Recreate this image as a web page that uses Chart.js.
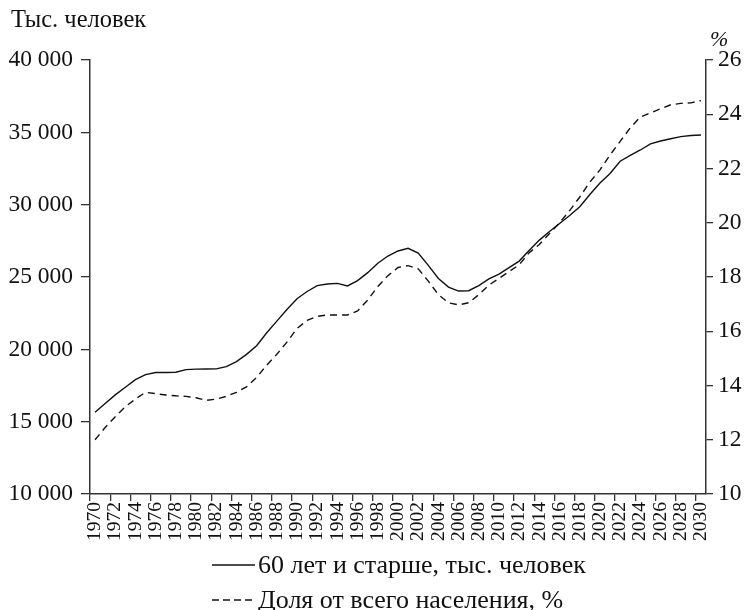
<!DOCTYPE html>
<html>
<head>
<meta charset="utf-8">
<script src="https://cdn.jsdelivr.net/npm/chart.js@4.4.1/dist/chart.umd.min.js"></script>
<style>
  body { margin: 0; background: #fff; }
  #wrap { position: relative; width: 746px; height: 610px; overflow: hidden; font-family: "Liberation Serif", "Times New Roman", serif; color: #111; }
  #myChart { position: absolute; left: 0; top: 0; }
  .lbl { position: absolute; white-space: nowrap; line-height: 1; }
  #yTitle { left: 11px; top: 7px; font-size: 24.5px; }
  #pct { left: 710px; top: 28px; font-size: 22px; font-style: italic; }
  #legend { position: absolute; left: 212px; top: 547px; font-size: 26px; line-height: 1; }
  .row { height: 35px; display: flex; align-items: center; white-space: nowrap; }
  .row svg { margin-right: 3px; }
</style>
</head>
<body>
<div id="wrap">
  <canvas id="myChart" width="746" height="550"></canvas>
  <div class="lbl" id="yTitle">Тыс. человек</div>
  <div class="lbl" id="pct">%</div>
  <div id="legend">
    <div class="row"><svg width="43" height="4"><line x1="0" y1="2" x2="43" y2="2" stroke="#111" stroke-width="1.4"/></svg><span>60 лет и старше, тыс. человек</span></div>
    <div class="row"><svg width="43" height="4"><line x1="0" y1="2" x2="41" y2="2" stroke="#111" stroke-width="1.4" stroke-dasharray="7,4"/></svg><span>Доля от всего населения, %</span></div>
  </div>
</div>
<script>
//  Data
var years = [1970, 1971, 1972, 1973, 1974, 1975, 1976, 1977, 1978, 1979,
  1980, 1981, 1982, 1983, 1984, 1985, 1986, 1987, 1988, 1989,
  1990, 1991, 1992, 1993, 1994, 1995, 1996, 1997, 1998, 1999,
  2000, 2001, 2002, 2003, 2004, 2005, 2006, 2007, 2008, 2009,
  2010, 2011, 2012, 2013, 2014, 2015, 2016, 2017, 2018, 2019,
  2020, 2021, 2022, 2023, 2024, 2025, 2026, 2027, 2028, 2029, 2030];

// 60 лет и старше, тыс. человек
var olderPeople = [15650, 16250, 16850, 17380, 17900, 18250, 18400, 18400, 18420, 18600,
  18630, 18640, 18650, 18800, 19150, 19650, 20250, 21150, 21950, 22750,
  23500, 24000, 24400, 24520, 24560, 24380, 24750, 25300, 25950, 26450,
  26800, 26980, 26650, 25800, 24900, 24300, 24030, 24050, 24400, 24870,
  25200, 25650, 26100, 26850, 27550, 28150, 28700, 29250, 29860, 30700,
  31500, 32150, 33000, 33400, 33780, 34200, 34400, 34560, 34700, 34780, 34820];

// Доля от всего населения, %
var sharePct = [12.0, 12.45, 12.85, 13.22, 13.5, 13.75, 13.7, 13.65, 13.62, 13.6,
  13.55, 13.45, 13.5, 13.6, 13.75, 13.95, 14.3, 14.75, 15.15, 15.6,
  16.1, 16.4, 16.55, 16.6, 16.6, 16.6, 16.75, 17.15, 17.65, 18.05,
  18.35, 18.42, 18.3, 17.85, 17.35, 17.05, 16.97, 17.05, 17.35, 17.7,
  17.95, 18.2, 18.45, 18.9, 19.2, 19.6, 20.0, 20.45, 20.95, 21.5,
  21.95, 22.5, 23.0, 23.5, 23.9, 24.05, 24.2, 24.35, 24.4, 24.42, 24.5];

var leftMin = 10000, leftMax = 40000, leftStep = 5000;
var rightMin = 10, rightMax = 26, rightStep = 2;

var axisColor = "#333";
var inkColor = "#111";

function spaced(v) {
  return String(v).replace(/\B(?=(\d{3})+(?!\d))/g, " ");
}

new Chart("myChart", {
  type: "line",
  data: {
    labels: years,
    datasets: [
      {
        label: "60 лет и старше, тыс. человек",
        data: olderPeople,
        yAxisID: "y",
        borderColor: inkColor,
        borderWidth: 1.4,
        pointRadius: 0,
        tension: 0,
        fill: false
      },
      {
        label: "Доля от всего населения, %",
        data: sharePct,
        yAxisID: "y1",
        borderColor: inkColor,
        borderWidth: 1.4,
        borderDash: [7, 5],
        pointRadius: 0,
        tension: 0,
        fill: false
      }
    ]
  },
  options: {
    responsive: false,
    animation: false,
    layout: { padding: { top: 60, left: 0, right: 0, bottom: 0 } },
    plugins: {
      legend: { display: false },
      tooltip: { enabled: false }
    },
    scales: {
      x: {
        type: "category",
        offset: true,
        border: { color: axisColor, width: 1.5 },
        grid: {
          offset: true,
          drawOnChartArea: false,
          tickLength: 7,
          lineWidth: 1.3,
          color: function(ctx) { return ctx.index % 2 === 0 ? axisColor : "rgba(0,0,0,0)"; }
        },
        ticks: {
          autoSkip: false,
          minRotation: 90,
          maxRotation: 90,
          padding: 1,
          color: inkColor,
          font: { family: "Liberation Serif", size: 19.5 },
          callback: function(val, i) { return i % 2 === 0 ? String(years[i]) : ""; }
        },
        afterFit: function(scale) { scale.height = 56; }
      },
      y: {
        position: "left",
        min: leftMin,
        max: leftMax,
        border: { color: axisColor, width: 1.5 },
        grid: { drawOnChartArea: false, tickLength: 9, lineWidth: 1.3, color: axisColor },
        ticks: {
          stepSize: leftStep,
          padding: 8,
          color: inkColor,
          font: { family: "Liberation Serif", size: 23.5 },
          callback: function(v) { return spaced(v); }
        },
        afterFit: function(scale) { scale.width = 90; }
      },
      y1: {
        position: "right",
        min: rightMin,
        max: rightMax,
        border: { color: axisColor, width: 1.5 },
        grid: { drawOnChartArea: false, tickLength: 7, lineWidth: 1.3, color: axisColor },
        ticks: {
          stepSize: rightStep,
          padding: 5,
          color: inkColor,
          font: { family: "Liberation Serif", size: 23.5 }
        },
        afterFit: function(scale) { scale.width = 40; }
      }
    }
  }
});
</script>
</body>
</html>
